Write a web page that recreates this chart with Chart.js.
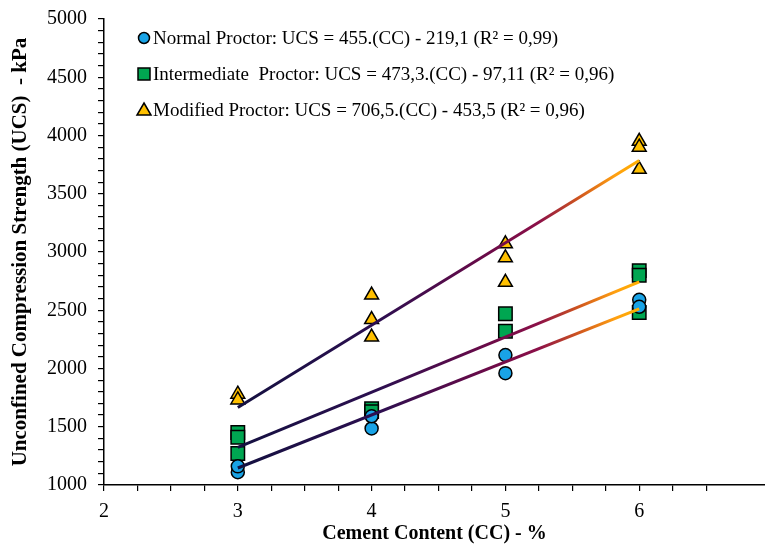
<!DOCTYPE html>
<html>
<head>
<meta charset="utf-8">
<script src="https://cdn.jsdelivr.net/npm/chart.js@4.4.1/dist/chart.umd.min.js"></script>
<style>
  html, body { margin: 0; padding: 0; background: #fff; }
  #wrap { width: 765px; height: 544px; }
</style>
</head>
<body>
<div id="wrap"><canvas id="c"></canvas></div>
<script>
var normalX = [3, 3, 4, 4, 5, 5, 6, 6];
var normalY = [1110, 1160, 1485, 1590, 2115, 1960, 2590, 2530];

var interX = [3, 3, 3, 4, 4, 5, 5, 6, 6, 6];
var interY = [1450, 1410, 1270, 1655, 1630, 2470, 2320, 2840, 2800, 2480];

var modX = [3, 3, 4, 4, 4, 5, 5, 5, 6, 6, 6];
var modY = [1780, 1730, 2630, 2420, 2270, 3070, 2950, 2740, 3950, 3900, 3710];

// trend lines as given in the legend
var slopes = [455, 473.3, 706.5];
var intercepts = [-219.1, -97.11, -453.5];
var fitRange = [3, 6];

var labels = [
  'Normal Proctor: UCS = 455.(CC) - 219,1 (R\u00B2 = 0,99)',
  'Intermediate  Proctor: UCS = 473,3.(CC) - 97,11 (R\u00B2 = 0,96)',
  'Modified Proctor: UCS = 706,5.(CC) - 453,5 (R\u00B2 = 0,96)'
];
var fills = ['#19a3e6', '#00a651', '#ffc000'];
var shapes = ['circle', 'rect', 'triangle'];

function pts(xs, ys) {
  return xs.map(function (x, i) { return { x: x, y: ys[i] }; });
}

function trend(i) {
  return fitRange.map(function (x) { return { x: x, y: slopes[i] * x + intercepts[i] }; });
}

function lineGrad(ctx) {
  var chart = ctx.chart;
  var xs = chart.scales.x;
  if (!chart.chartArea || !xs) return '#1a1040';
  var x0 = xs.getPixelForValue(3), x1 = xs.getPixelForValue(6);
  if (!isFinite(x0) || !isFinite(x1) || x1 <= x0) return '#1a1040';
  var g = chart.ctx.createLinearGradient(x0, 0, x1, 0);
  g.addColorStop(0, '#141040');
  g.addColorStop(0.35, '#2c0f50');
  g.addColorStop(0.62, '#6a0a48');
  g.addColorStop(0.75, '#8c1048');
  g.addColorStop(0.85, '#d0561e');
  g.addColorStop(0.94, '#ffa010');
  g.addColorStop(1, '#ffb000');
  return g;
}

var datasets = [];
[0, 1, 2].forEach(function (i) {
  datasets.push({
    type: 'line',
    data: trend(i),
    borderColor: lineGrad,
    borderWidth: 3,
    pointRadius: 0,
    fill: false,
    order: 1
  });
});

var series = [pts(normalX, normalY), pts(interX, interY), pts(modX, modY)];
series.forEach(function (d, i) {
  datasets.push({
    type: 'scatter',
    label: labels[i],
    data: d,
    pointStyle: shapes[i],
    pointRadius: i === 1 ? 9.5 : (i === 2 ? 8 : 6.5),
    backgroundColor: fills[i],
    borderColor: '#000',
    borderWidth: 1.5,
    order: 2
  });
});

var legendPlugin = {
  id: 'boxLegend',
  afterDraw: function (chart) {
    var ctx = chart.ctx;
    ctx.save();
    ctx.font = '19px "Liberation Serif", "Times New Roman", serif';
    ctx.textBaseline = 'middle';
    var x = 144, y0 = 38, gap = 36;
    [0, 1, 2].forEach(function (i) {
      var y = y0 + i * gap;
      ctx.lineWidth = 1.5;
      ctx.strokeStyle = '#000';
      ctx.fillStyle = fills[i];
      ctx.beginPath();
      if (i === 0) {
        ctx.arc(x, y, 5.5, 0, Math.PI * 2);
      } else if (i === 1) {
        ctx.rect(x - 6, y - 6, 12, 12);
      } else {
        ctx.moveTo(x, y - 7);
        ctx.lineTo(x + 7, y + 5);
        ctx.lineTo(x - 7, y + 5);
        ctx.closePath();
      }
      ctx.fill();
      ctx.stroke();
      ctx.fillStyle = '#000';
      ctx.fillText(labels[i], x + 9, y + 1);
    });
    ctx.restore();
  }
};

var serif = '"Liberation Serif", "Times New Roman", serif';

new Chart(document.getElementById('c'), {
  data: { datasets: datasets },
  options: {
    responsive: true,
    maintainAspectRatio: false,
    animation: false,
    layout: { autoPadding: false, padding: { top: 19, right: 0, left: 0, bottom: 0 } },
    plugins: {
      legend: { display: false },
      tooltip: { enabled: false }
    },
    scales: {
      x: {
        type: 'linear',
        min: 2,
        max: 6.94,
        border: { color: '#000', width: 1.5 },
        grid: { drawOnChartArea: false, drawTicks: true, tickLength: 6, color: '#000', lineWidth: 1.2 },
        afterBuildTicks: function (s) {
          s.ticks = s.ticks.filter(function (t) { return Math.abs(t.value * 4 - Math.round(t.value * 4)) < 1e-6; });
        },
        afterFit: function (s) { s.height = 59; s.paddingLeft = 0; s.paddingRight = 0; },
        ticks: {
          stepSize: 0.25,
          autoSkip: false,
          maxRotation: 0,
          padding: 9,
          color: '#000',
          font: { family: serif, size: 20 },
          callback: function (v) { return Number.isInteger(v) ? String(v) : ''; }
        },
        title: {
          display: true,
          text: 'Cement Content (CC) - %',
          color: '#000',
          font: { family: serif, size: 20, weight: 'bold', lineHeight: 1 },
          padding: { top: 0, bottom: 0 }
        }
      },
      y: {
        type: 'linear',
        min: 1000,
        max: 5000,
        border: { color: '#000', width: 1.5 },
        grid: { drawOnChartArea: false, drawTicks: true, tickLength: 6, color: '#000', lineWidth: 1.2 },
        afterFit: function (s) { s.width = 104; s.paddingTop = 0; s.paddingBottom = 0; },
        ticks: {
          stepSize: 100,
          autoSkip: false,
          padding: 11,
          color: '#000',
          font: { family: serif, size: 20 },
          callback: function (v) { return v % 500 === 0 ? String(v) : ''; }
        },
        title: {
          display: true,
          text: 'Unconfined Compression Strength (UCS)  - kPa',
          color: '#000',
          font: { family: serif, size: 21, weight: 'bold', lineHeight: 1 },
          padding: { top: 10, bottom: 0 }
        }
      }
    }
  },
  plugins: [legendPlugin]
});
</script>
</body>
</html>
